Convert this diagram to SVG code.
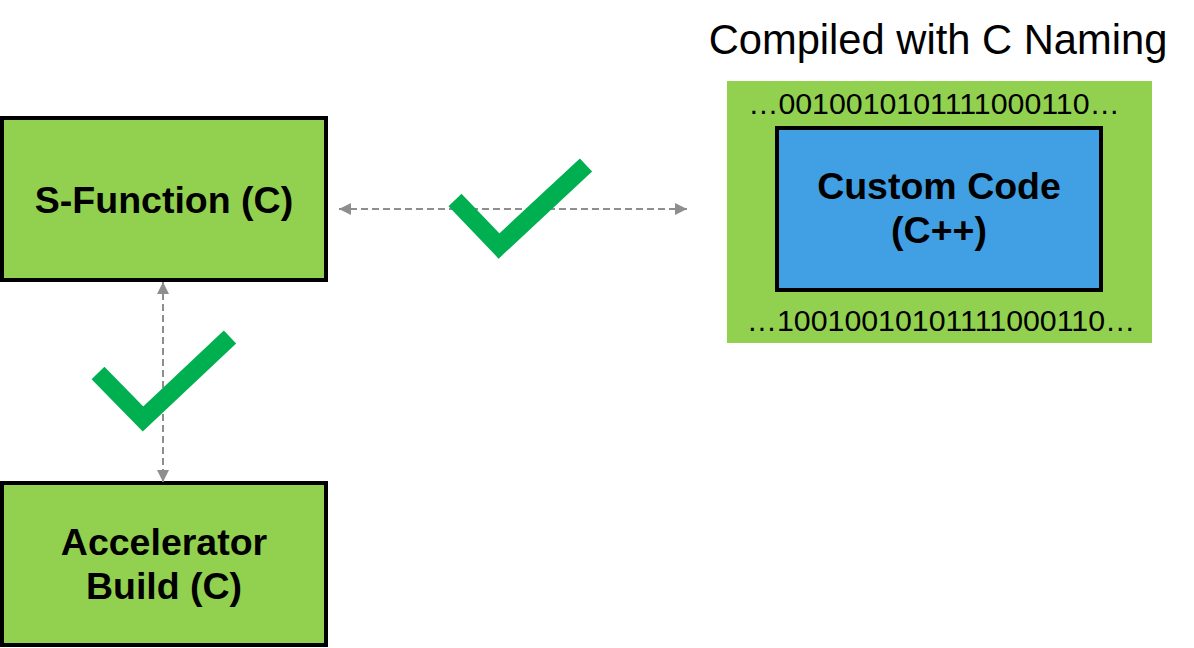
<svg xmlns="http://www.w3.org/2000/svg" width="1194" height="648" viewBox="0 0 1194 648">
<style>
.box{fill:#92D050;stroke:#000;stroke-width:4}
.blue{fill:#41A0E4;stroke:#000;stroke-width:4}
.lbl{font-family:"Liberation Sans",Arial,sans-serif;font-weight:bold;font-size:37.5px;fill:#000;text-anchor:middle}
.bin{font-family:"Liberation Sans",Arial,sans-serif;font-size:30.3px;fill:#000;text-anchor:middle}
.title{font-family:"Liberation Sans",Arial,sans-serif;font-size:41.7px;fill:#000;text-anchor:middle}
.conn{fill:none;stroke:#8E8E8E;stroke-width:2;stroke-dasharray:7 4}
.check{fill:none;stroke:#00B050;stroke-width:18;stroke-linejoin:miter;stroke-linecap:butt}
</style>
<defs>
<marker id="ah" markerUnits="userSpaceOnUse" markerWidth="12" markerHeight="12" refX="12" refY="6" orient="auto-start-reverse" viewBox="0 0 12 12">
<path d="M0,0 L12,6 L0,12 Z" fill="#8E8E8E"/>
</marker>
</defs>
<rect width="1194" height="648" fill="#fff"/>
<g id="title"><text class="title" x="938" y="54">Compiled with C Naming</text></g>
<g id="s-function"><rect class="box" x="2" y="118" width="324" height="162"/><text class="lbl" x="164" y="213">S-Function (C)</text></g>
<g id="accelerator"><rect class="box" x="2" y="483" width="324" height="162"/><text class="lbl" x="164" y="555">Accelerator</text><text class="lbl" x="164" y="599">Build (C)</text></g>
<g id="c-naming"><rect x="727" y="81" width="425" height="262" fill="#92D050"/>
<text class="bin" x="934" y="114">…0010010101111000110…</text>
<text class="bin" x="941" y="331">…10010010101111000110…</text>
</g>
<g id="custom-code"><rect class="blue" x="777" y="128" width="324" height="162"/><text class="lbl" x="939" y="199">Custom Code</text><text class="lbl" x="939" y="243">(C++)</text></g>
<g id="connectors">
<line class="conn" x1="339" y1="209" x2="687" y2="209" marker-start="url(#ah)" marker-end="url(#ah)"/>
<line class="conn" x1="163" y1="282" x2="163" y2="482" marker-start="url(#ah)" marker-end="url(#ah)"/>
</g>
<g id="checks">
<polyline class="check" points="455,200 499,246 586,165"/>
<polyline class="check" points="98,373 143,419 230,337"/>
</g>
</svg>
